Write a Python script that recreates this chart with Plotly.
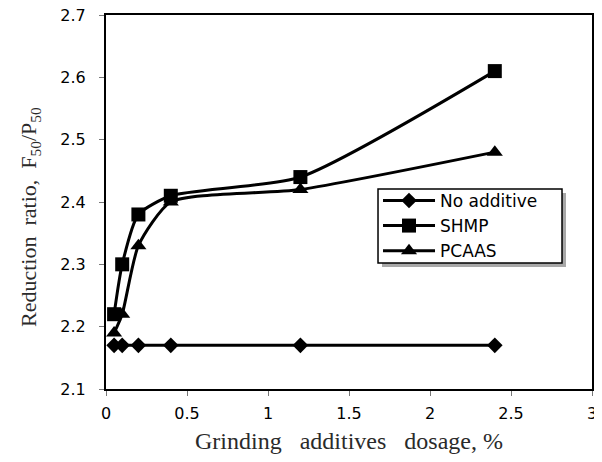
import plotly.graph_objects as go

dosage_none = [0.05, 0.1, 0.2, 0.4, 1.2, 2.4]
ratio_none = [2.17, 2.17, 2.17, 2.17, 2.17, 2.17]
dosage_shmp = [0.05, 0.1, 0.2, 0.4, 1.2, 2.4]
ratio_shmp = [2.22, 2.30, 2.38, 2.41, 2.44, 2.61]
dosage_pcaas = [0.05, 0.1, 0.2, 0.4, 1.2, 2.4]
ratio_pcaas = [2.19, 2.22, 2.33, 2.40, 2.42, 2.48]
names = ["No additive", "SHMP", "PCAAS"]
x_ticks = [0, 0.5, 1, 1.5, 2, 2.5, 3]
x_tick_labels = ["0", "0.5", "1", "1.5", "2", "2.5", "3"]
y_ticks = [2.1, 2.2, 2.3, 2.4, 2.5, 2.6, 2.7]

fig = go.Figure()
series = [
    (dosage_none, ratio_none, names[0], "diamond", 12),
    (dosage_shmp, ratio_shmp, names[1], "square", 14),
    (dosage_pcaas, ratio_pcaas, names[2], "triangle-up", 14),
]
for xs, ys, nm, sym, sz in series:
    fig.add_trace(go.Scatter(
        x=xs, y=ys, name=nm, mode="lines+markers",
        line=dict(color="black", width=3, shape="spline", smoothing=0.6),
        marker=dict(symbol=sym, size=sz, color="black"),
    ))

# legend shadow and box
fig.add_shape(type="rect", xref="paper", yref="paper",
              x0=0.5679, x1=0.9465, y0=0.3262, y1=0.5241,
              fillcolor="#a8a8a8", line=dict(width=0), layer="above")
fig.add_shape(type="rect", xref="paper", yref="paper",
              x0=0.5597, x1=0.9383, y0=0.3369, y1=0.5348,
              fillcolor="white", line=dict(color="black", width=1.5), layer="above")

nb = "\u00a0"
fig.add_annotation(xref="paper", yref="paper", x=-0.1564, y=0.46,
                   xanchor="center", yanchor="middle", textangle=-90, showarrow=False,
                   text=f"Reduction{nb}{nb}ratio,{nb}{nb}F<sub>50</sub>/P<sub>50</sub>",
                   font=dict(family="Liberation Serif", size=22, color="#2a2a2a"))
fig.add_annotation(xref="paper", yref="paper", x=0.5, y=-0.139,
                   xanchor="center", yanchor="middle", showarrow=False,
                   text=f"Grinding{nb}{nb}{nb}additives{nb}{nb}{nb}dosage,{nb}%",
                   font=dict(family="Liberation Serif", size=24, color="#2a2a2a"))

fig.update_layout(
    width=592, height=446,
    margin=dict(l=98, r=8, t=7, b=65),
    paper_bgcolor="white", plot_bgcolor="white",
    showlegend=True,
    legend=dict(x=0.5597, y=0.551, xanchor="left", yanchor="top",
                bgcolor="rgba(0,0,0,0)", borderwidth=0,
                font=dict(family="DejaVu Sans", size=17, color="black"),
                tracegroupgap=0, itemwidth=52),
    xaxis=dict(range=[0, 3], tickvals=x_ticks, ticktext=x_tick_labels, automargin=False,
               showline=True, linecolor="black", linewidth=2, mirror=True,
               ticks="outside", ticklen=5, tickcolor="#777", showgrid=False, zeroline=False,
               ticklabelstandoff=4, ticklabeloverflow="allow",
               tickfont=dict(family="DejaVu Sans", size=16, color="black")),
    yaxis=dict(range=[2.1, 2.7], tickvals=y_ticks, tickformat=".1f", automargin=False,
               showline=True, linecolor="black", linewidth=2, mirror=True,
               ticks="outside", ticklen=5, tickcolor="#777", showgrid=False, zeroline=False,
               ticklabelstandoff=10, ticklabeloverflow="allow",
               tickfont=dict(family="DejaVu Sans", size=16, color="black")),
)
fig.write_html("out.html")
